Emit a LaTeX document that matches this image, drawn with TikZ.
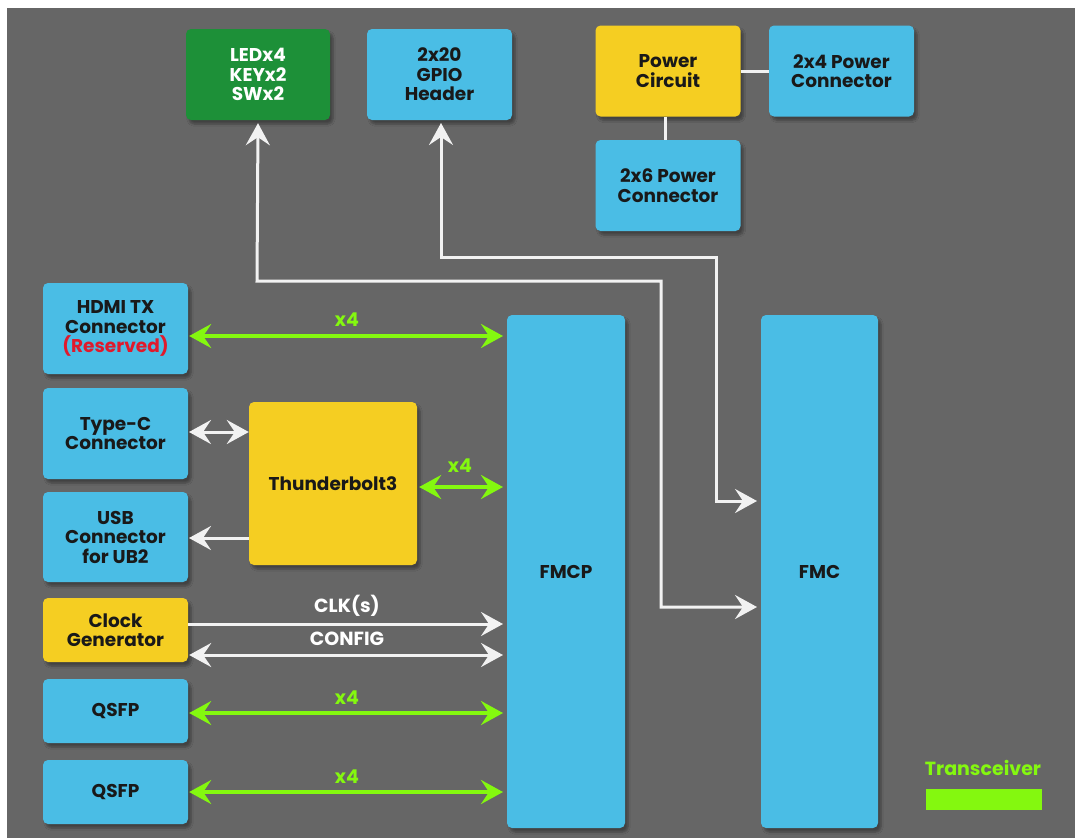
\documentclass[tikz,border=0pt]{standalone}
\usepackage{fontspec}
\setmainfont{Poppins}
\usetikzlibrary{arrows.meta,shadows.blur,calc}
\definecolor{bg}{HTML}{666666}
\definecolor{cblue}{HTML}{4ABDE5}
\definecolor{cyel}{HTML}{F5CE22}
\definecolor{cgreen}{HTML}{1D9038}
\definecolor{lime}{HTML}{84F80F}
\definecolor{cred}{HTML}{E01A2C}
\definecolor{wl}{HTML}{F2F2F2}
\tikzset{
  box/.style={rounded corners=5pt, inner sep=0pt, align=center,
    font=\fontsize{18.5}{19.5}\selectfont\bfseries, text=black!90,
    blur shadow={shadow xshift=3pt, shadow yshift=-4pt, shadow blur steps=6, shadow opacity=35}},
  bluebox/.style={box, fill=cblue},
  yelbox/.style={box, fill=cyel},
  grnbox/.style={box, fill=cgreen, text=white},
  wline/.style={draw=wl, line width=3pt},
  gline/.style={draw=lime, line width=4pt},
  >={Stealth[length=22pt,width=24pt,inset=8pt]},
  lbl/.style={font=\fontsize{19}{20}\selectfont\bfseries, inner sep=0pt},
}
\begin{document}
\begin{tikzpicture}[x=1pt,y=-1pt]
\useasboundingbox (0,0) rectangle (1075,838);
\fill[white] (0,0) rectangle (1075,838);
\fill[bg] (7,8) rectangle (1075,838);

% top row
\node[grnbox, minimum width=144pt, minimum height=91pt] (led) at (258,74.5) {LEDx4\\KEYx2\\SWx2};
\node[bluebox, minimum width=145pt, minimum height=91pt] (gpio) at (439.5,74.5) {2x20\\GPIO\\Header};
\node[yelbox, minimum width=145pt, minimum height=91pt] (pwr) at (668,71) {Power\\Circuit};
\node[bluebox, minimum width=145pt, minimum height=91pt] (p24) at (841.5,71) {2x4 Power\\Connector};
\node[bluebox, minimum width=145pt, minimum height=91pt] (p26) at (668,185.5) {2x6 Power\\Connector};

% left column
\node[bluebox, minimum width=145pt, minimum height=91pt] (hdmi) at (115.5,328.5) {HDMI TX\\Connector\\\textcolor{cred}{(Reserved)}};
\node[bluebox, minimum width=145pt, minimum height=91pt] (typec) at (115.5,433.5) {Type-C\\Connector};
\node[bluebox, minimum width=145pt, minimum height=90pt] (usb) at (115.5,537) {USB\\Connector\\for UB2};
\node[yelbox, minimum width=145pt, minimum height=64pt] (clk) at (115.5,630) {Clock\\Generator};
\node[bluebox, minimum width=145pt, minimum height=64pt] (q1) at (115.5,711) {QSFP};
\node[bluebox, minimum width=145pt, minimum height=64pt] (q2) at (115.5,792) {QSFP};

\node[yelbox, minimum width=168pt, minimum height=163pt] (tb) at (333,483.5) {Thunderbolt3};

% big boxes
\node[bluebox, minimum width=118pt, minimum height=513pt] (fmcp) at (566,571.5) {FMCP};
\node[bluebox, minimum width=117pt, minimum height=513pt] (fmc) at (819.5,571.5) {FMC};

% power links
\draw[wline] (pwr.east) -- (p24.west);
\draw[wline] (pwr.south -| 665,0) -- (p26.north -| 665,0);

% LED / GPIO routes to FMC
\coordinate (c1) at (257,281);
\coordinate (c2) at (661,281);
\coordinate (c3) at (661,607);
\coordinate (c4) at (757,607);
\draw[wline,<->] (led.south) ++(0,3) -- (c1) -- (c2) -- (c3) -- (c4);
\coordinate (d1) at (441,257);
\coordinate (d2) at (716,257);
\coordinate (d3) at (716,501);
\coordinate (d4) at (757,501);
\draw[wline,<->] (441,123) -- (d1) -- (d2) -- (d3) -- (d4);

% transceiver links
\coordinate (fl1) at (503,336);
\draw[gline,<->] (hdmi.east |- fl1) ++(1,0) -- (fl1);
\node[lbl, text=lime] (x4a) at (347,320) {x4};
\coordinate (fl2) at (503,487);
\draw[gline,<->] (tb.east |- fl2) ++(2,0) -- (fl2);
\node[lbl, text=lime] (x4b) at (460,466) {x4};
\coordinate (fl3) at (503,713);
\draw[gline,<->] (q1.east |- fl3) ++(1,0) -- (fl3);
\node[lbl, text=lime] (x4c) at (347,698) {x4};
\coordinate (fl4) at (503,792);
\draw[gline,<->] (q2.east |- fl4) ++(1,0) -- (fl4);
\node[lbl, text=lime] (x4d) at (347,777) {x4};

% type-c / usb
\coordinate (tc) at (189,432);
\draw[wline,<->] (tc) -- (tc -| tb.west);
\coordinate (ub) at (189,538);
\draw[wline,->] (ub -| tb.west) -- (ub);

% clock
\coordinate (ck) at (503,624);
\draw[wline,->] (ck -| clk.east) -- (ck);
\node[lbl, text=white] (clks) at (347,606) {CLK(s)};
\coordinate (cf) at (503,655);
\draw[wline,<->] (cf -| clk.east) ++(1,0) -- (cf);
\node[lbl, text=white] (cfg) at (347,639) {CONFIG};

% legend
\node[lbl, text=lime] (trx) at (983,768) {Transceiver};
\fill[lime] (926,789) rectangle (1042,810);
\end{tikzpicture}
\end{document}
